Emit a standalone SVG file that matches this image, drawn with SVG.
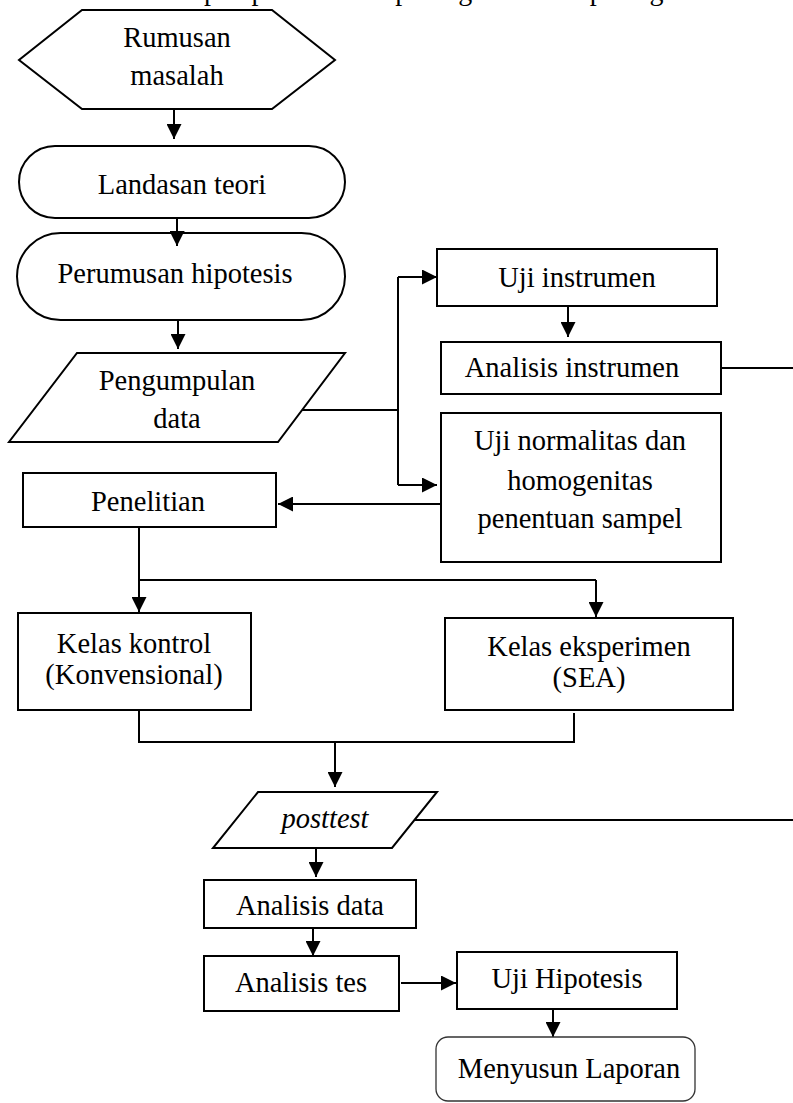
<svg xmlns="http://www.w3.org/2000/svg" width="793" height="1103" viewBox="0 0 793 1103">
<style>
.s{fill:#fff;stroke:#000;stroke-width:2}
.t{font-family:"Liberation Serif","Times New Roman",serif;font-size:28.5px;fill:#000;text-anchor:middle}
.c{fill:none;stroke:#000;stroke-width:2}
.a{fill:none;stroke:#000;stroke-width:2;marker-end:url(#ah)}
</style>
<defs>
<marker id="ah" markerUnits="userSpaceOnUse" markerWidth="16" markerHeight="15" refX="15" refY="7.5" orient="auto">
<path d="M0,0 L15,7.5 L0,15 z" fill="#000"/>
</marker>
</defs>
<rect width="793" height="1103" fill="#fff"/>
<text x="150" y="0" style="font-family:'Liberation Serif','Times New Roman',serif;font-size:28px;fill:#000">Tahapan penelitian dapat digambarkan pada gambar 3.1</text>

<g id="connectors">
<path class="a" d="M174,109 V139"/>
<path class="a" d="M177,218 V246"/>
<path class="a" d="M178,320 V349"/>
<path class="c" d="M302,410 H398"/>
<path class="c" d="M398,277 V485"/>
<path class="a" d="M398,277 H437"/>
<path class="a" d="M398,485 H437"/>
<path class="a" d="M568,306 V337"/>
<path class="c" d="M721,368 H793"/>
<path class="a" d="M441,504 H278"/>
<path class="c" d="M139,527 V580 H596"/>
<path class="a" d="M139,580 V612"/>
<path class="a" d="M596,580 V617"/>
<path class="c" d="M139,710 V742 H574 V713"/>
<path class="a" d="M335,742 V787"/>
<path class="c" d="M415,820 H793"/>
<path class="a" d="M316,848 V877"/>
<path class="a" d="M313,928 V956"/>
<path class="a" d="M401,983 H456"/>
<path class="a" d="M553,1009 V1037"/>
</g>

<g id="rumusan">
<polygon class="s" points="82,10 272,10 335,60 272,109 82,109 19,60"/>
<text class="t" x="177" y="47">Rumusan</text>
<text class="t" x="177" y="85">masalah</text>
</g>
<g id="landasan">
<rect class="s" x="19" y="146" width="326" height="72" rx="36"/>
<text class="t" x="182" y="194">Landasan teori</text>
</g>
<g id="perumusan">
<rect class="s" x="17" y="233" width="328" height="87" rx="43.5"/>
<text class="t" x="175" y="283">Perumusan hipotesis</text>
</g>
<path class="a" d="M177,226 V246"/>
<g id="pengumpulan">
<polygon class="s" points="77,353 345,353 278,442 9,442"/>
<text class="t" x="177" y="390">Pengumpulan</text>
<text class="t" x="177" y="428">data</text>
</g>
<g id="uji-instrumen">
<rect class="s" x="437" y="249" width="280" height="57"/>
<text class="t" x="577" y="287">Uji instrumen</text>
</g>
<g id="analisis-instrumen">
<rect class="s" x="441" y="342" width="280" height="52"/>
<text class="t" x="572" y="377">Analisis instrumen</text>
</g>
<g id="uji-normalitas">
<rect class="s" x="441" y="413" width="280" height="149"/>
<text class="t" x="580" y="450">Uji normalitas dan</text>
<text class="t" x="580" y="490">homogenitas</text>
<text class="t" x="580" y="528">penentuan sampel</text>
</g>
<g id="penelitian">
<rect class="s" x="23" y="473" width="253" height="54"/>
<text class="t" x="148" y="511">Penelitian</text>
</g>
<g id="kelas-kontrol">
<rect class="s" x="18" y="613" width="233" height="97"/>
<text class="t" x="134" y="653">Kelas kontrol</text>
<text class="t" x="134" y="684">(Konvensional)</text>
</g>
<g id="kelas-eksperimen">
<rect class="s" x="445" y="618" width="288" height="92"/>
<text class="t" x="589" y="656">Kelas eksperimen</text>
<text class="t" x="589" y="687">(SEA)</text>
</g>
<g id="posttest">
<polygon class="s" points="258,792 437,792 392,848 213,848"/>
<text class="t" x="325" y="828" font-style="italic">posttest</text>
</g>
<g id="analisis-data">
<rect class="s" x="204" y="880" width="212" height="48"/>
<text class="t" x="310" y="915">Analisis data</text>
</g>
<g id="analisis-tes">
<rect class="s" x="204" y="956" width="195" height="55"/>
<text class="t" x="301" y="992">Analisis tes</text>
</g>
<g id="uji-hipotesis">
<rect class="s" x="457" y="952" width="220" height="57"/>
<text class="t" x="567" y="988">Uji Hipotesis</text>
</g>
<g id="menyusun-laporan">
<rect x="436" y="1037" width="259" height="64" rx="12" fill="#fff" stroke="#333" stroke-width="1.3"/>
<text class="t" x="569" y="1078">Menyusun Laporan</text>
</g>
</svg>
